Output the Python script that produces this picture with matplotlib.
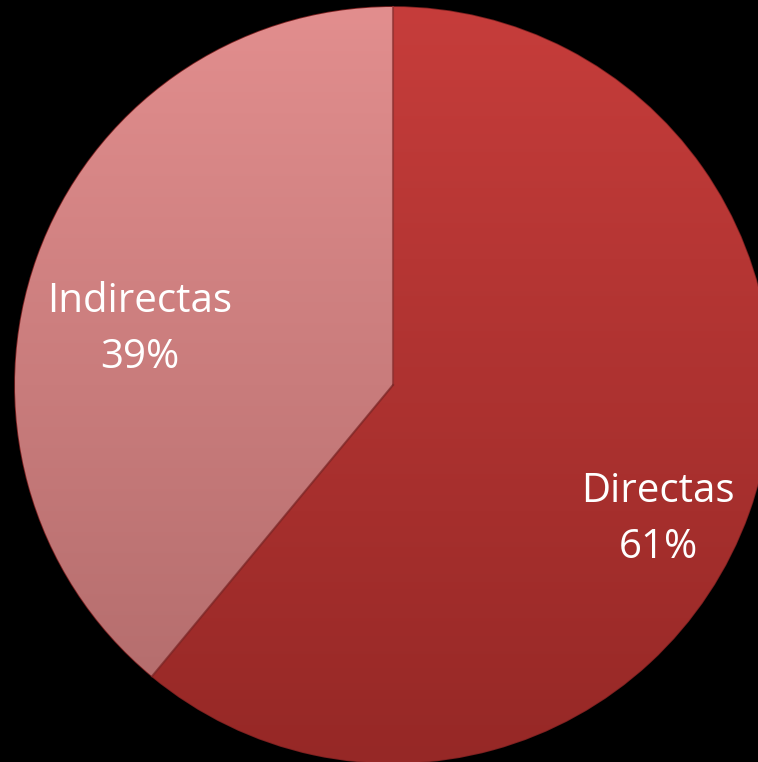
import matplotlib
matplotlib.use("Agg")
import matplotlib.pyplot as plt
import numpy as np
from matplotlib.colors import LinearSegmentedColormap

labels = ["Directas", "Indirectas"]
values = [61, 39]
top_colors = ["#C63D3B", "#E28E8E"]
bottom_colors = ["#962826", "#B06A6A"]

W, H = 758, 762
fig = plt.figure(figsize=(W / 100, H / 100), dpi=100, facecolor="black")
ax = fig.add_axes([0, 0, 1, 1])
ax.set_facecolor("black")

cx, cy, R = 393, 377, 378
wedges, _ = ax.pie(values, startangle=90, counterclock=False, radius=R,
                   center=(cx, cy), frame=True,
                   wedgeprops=dict(linewidth=1.2, edgecolor="#7a2020"))
ax.set_xlim(0, W)
ax.set_ylim(0, H)
ax.axis("off")

grad = np.linspace(0, 1, 256).reshape(-1, 1)
for w, tc, bc in zip(wedges, top_colors, bottom_colors):
    cmap = LinearSegmentedColormap.from_list("g", [bc, tc])
    w.set_facecolor(bc)
    im = ax.imshow(grad, cmap=cmap, origin="lower", aspect="auto",
                   extent=[cx - R, cx + R, cy - R, cy + R], zorder=w.get_zorder() + 0.1)
    im.set_clip_path(w)

ax.plot([cx, cx], [cy, cy + R], color="#8a3030", lw=1.5, zorder=5, alpha=0.7)
a = np.deg2rad(wedges[0].theta1)
ax.plot([cx, cx + R * np.cos(a)], [cy, cy + R * np.sin(a)], color="#7a2424", lw=1.5, zorder=5, alpha=0.7)

font = "Open Sans"
fs = 29
ax.text(658, H - 492, labels[0], color="white", fontsize=fs, family=font, ha="center", va="center", zorder=6)
ax.text(658, H - 548, f"{values[0]}%", color="white", fontsize=fs, family=font, ha="center", va="center", zorder=6)
ax.text(140, H - 302, labels[1], color="white", fontsize=fs, family=font, ha="center", va="center", zorder=6)
ax.text(140, H - 358, f"{values[1]}%", color="white", fontsize=fs, family=font, ha="center", va="center", zorder=6)

fig.savefig("out.png", dpi=100, facecolor="black")
